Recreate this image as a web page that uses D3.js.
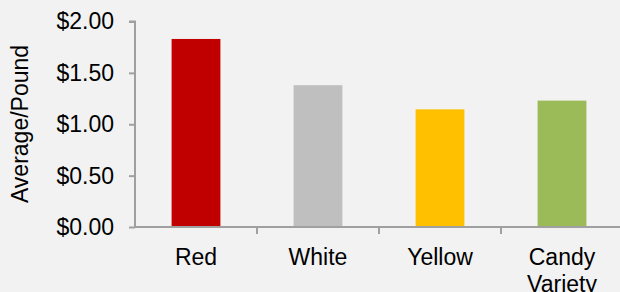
<!DOCTYPE html>
<html>
<head>
<meta charset="utf-8">
<script src="https://cdn.jsdelivr.net/npm/d3@7"></script>
<style>
  body { margin: 0; background: #f2f2f2; }
  svg { display: block; font-family: "Liberation Sans", Arial, sans-serif; }
</style>
</head>
<body>
<svg width="620" height="292"></svg>
<script>
// data
var categories = ["Red", "White", "Yellow", "Candy Variety"];
var values = [1.83, 1.38, 1.145, 1.23];
var colors = ["#c00000", "#bfbfbf", "#ffc000", "#9bbb59"];
var yTicks = [0, 0.5, 1, 1.5, 2];

var svg = d3.select("svg");
var axisColor = "#a0a0a0";
var fontSize = 23;

var x = d3.scaleBand()
    .domain(categories)
    .range([135, 623])
    .paddingInner(0.6)
    .paddingOuter(0.3);

var y = d3.scaleLinear()
    .domain([0, 2])
    .range([227, 21.5]);

svg.append("rect").attr("width", 620).attr("height", 292).attr("fill", "#f2f2f2");

// bars
svg.selectAll(".bar")
    .data(categories)
    .enter().append("rect")
      .attr("class", "bar")
      .attr("x", function(d){ return x(d) })
      .attr("y", function(d, i){ return y(values[i]) })
      .attr("width", x.bandwidth())
      .attr("height", function(d, i){ return y(0) - y(values[i]) })
      .attr("fill", function(d, i){ return colors[i] });

// y axis
var yAxis = svg.append("g")
    .attr("transform", "translate(135,0)")
    .call(d3.axisLeft(y).tickValues(yTicks).tickSize(6).tickPadding(15)
      .tickFormat(function(d){ return "$" + d3.format(".2f")(d) }));
yAxis.select(".domain").attr("stroke", axisColor).attr("stroke-width", 2).attr("d", "M-6," + y(2) + "H0V" + y(0));
yAxis.selectAll(".tick line").attr("stroke", axisColor).attr("stroke-width", 2);
yAxis.selectAll(".tick text").attr("fill", "#000").style("font-size", fontSize + "px")
    .attr("font-family", "Liberation Sans, Arial, sans-serif");

// x axis line and ticks between categories
var step = x.step();
svg.append("line")
    .attr("x1", 134).attr("x2", 620)
    .attr("y1", y(0)).attr("y2", y(0))
    .attr("stroke", axisColor).attr("stroke-width", 2);
svg.selectAll(".xtick")
    .data(d3.range(1, categories.length + 1))
    .enter().append("line")
      .attr("x1", function(i){ return 135 + i * step })
      .attr("x2", function(i){ return 135 + i * step })
      .attr("y1", y(0)).attr("y2", y(0) + 7)
      .attr("stroke", axisColor).attr("stroke-width", 2);

// x labels (wrapped)
svg.selectAll(".xlabel")
    .data(categories)
    .enter().append("text")
      .attr("class", "xlabel")
      .attr("text-anchor", "middle")
      .style("font-size", fontSize + "px")
      .attr("fill", "#000")
      .each(function(d){
        var words = d.split(" ");
        var t = d3.select(this);
        words.forEach(function(w, j){
          t.append("tspan")
            .attr("x", x(d) + x.bandwidth() / 2)
            .attr("y", 265 + j * 27)
            .text(w);
        });
      });

// y axis title
svg.append("text")
    .attr("transform", "translate(28,124) rotate(-90)")
    .attr("text-anchor", "middle")
    .style("font-size", fontSize + "px")
    .attr("fill", "#000")
    .text("Average/Pound");
</script>
</body>
</html>
